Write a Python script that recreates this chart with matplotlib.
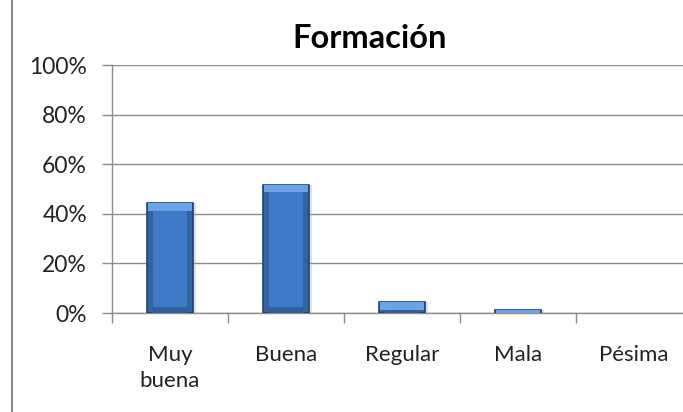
import numpy as np
import matplotlib.pyplot as plt
from matplotlib.patches import Rectangle
from matplotlib.ticker import PercentFormatter

# data
categories = ["Muy\nbuena", "Buena", "Regular", "Mala", "Pésima"]
values = [0.443, 0.518, 0.043, 0.011, 0.0]
y_ticks = [0, 0.2, 0.4, 0.6, 0.8, 1.0]

plt.rcParams['font.family'] = ['Lato', 'DejaVu Sans']

fig = plt.figure(figsize=(6.83, 4.12), dpi=100)
ax = fig.add_axes([112/683, 1 - 313/412, 580/683, (313 - 65.3)/412])

x = np.arange(len(categories))
w = 0.4
shown = [v > 0 for v in values]

# bevelled blue bars, built in layers
ax.bar(x + 0.02, values, w, color='#9aa9bd', alpha=0.35, zorder=2)
ax.bar(x, values, w, color='#33649f',
       edgecolor=['#1f4272' if s else 'none' for s in shown],
       linewidth=1.2, zorder=3)
ax.bar(x, values, w * 0.74, color='#3d7bc8', linewidth=0, zorder=4)
# darker band at the foot, light bevel at the top
bot_h = [min(v, 0.025) for v in values]
ax.bar(x, bot_h, w * 0.74, color='#2f5f9c', linewidth=0, zorder=4.5)
top_h = [min(v, 0.03) for v in values]
ax.bar(x, top_h, w * 0.95, bottom=[v - h for v, h in zip(values, top_h)],
       color='#6aa3e6', linewidth=0, zorder=5)

ax.set_xlim(-0.5, len(categories) - 0.5)
ax.set_ylim(0, 1.0)
ax.set_yticks(y_ticks)
ax.yaxis.set_major_formatter(PercentFormatter(1.0, decimals=0))
ax.set_xticks(x)
ax.set_xticklabels(categories, fontsize=16, color='#222222', linespacing=1.4)
ax.set_xticks(np.arange(len(categories)) - 0.5, minor=True)
ax.tick_params(axis='x', which='major', length=0, pad=23)
ax.tick_params(axis='x', which='minor', length=7, color='#8c8c8c', width=1)
ax.tick_params(axis='y', length=7, color='#8c8c8c', width=1, labelsize=16.5,
               labelcolor='#222222', pad=11)
for lbl in ax.get_xticklabels():
    lbl.set_verticalalignment('top')

ax.grid(axis='y', color='#8c8c8c', linewidth=1)
ax.set_axisbelow(True)
for s in ['top', 'right']:
    ax.spines[s].set_visible(False)
for s in ['left', 'bottom']:
    ax.spines[s].set_color('#8c8c8c')
    ax.spines[s].set_linewidth(1)

fig.text(370/683, 1 - 39/412, "Formación", ha='center', va='center',
         fontsize=23.5, fontweight='bold', color='black')

# chart area border (cut off at right and bottom)
fig.patches.append(Rectangle((12/683, -0.2), 1.2, 1.2 + 1 - 13/412,
                             transform=fig.transFigure, fill=False,
                             edgecolor='#8c8c8c', linewidth=1.5))

fig.savefig('out.png', dpi=100)
